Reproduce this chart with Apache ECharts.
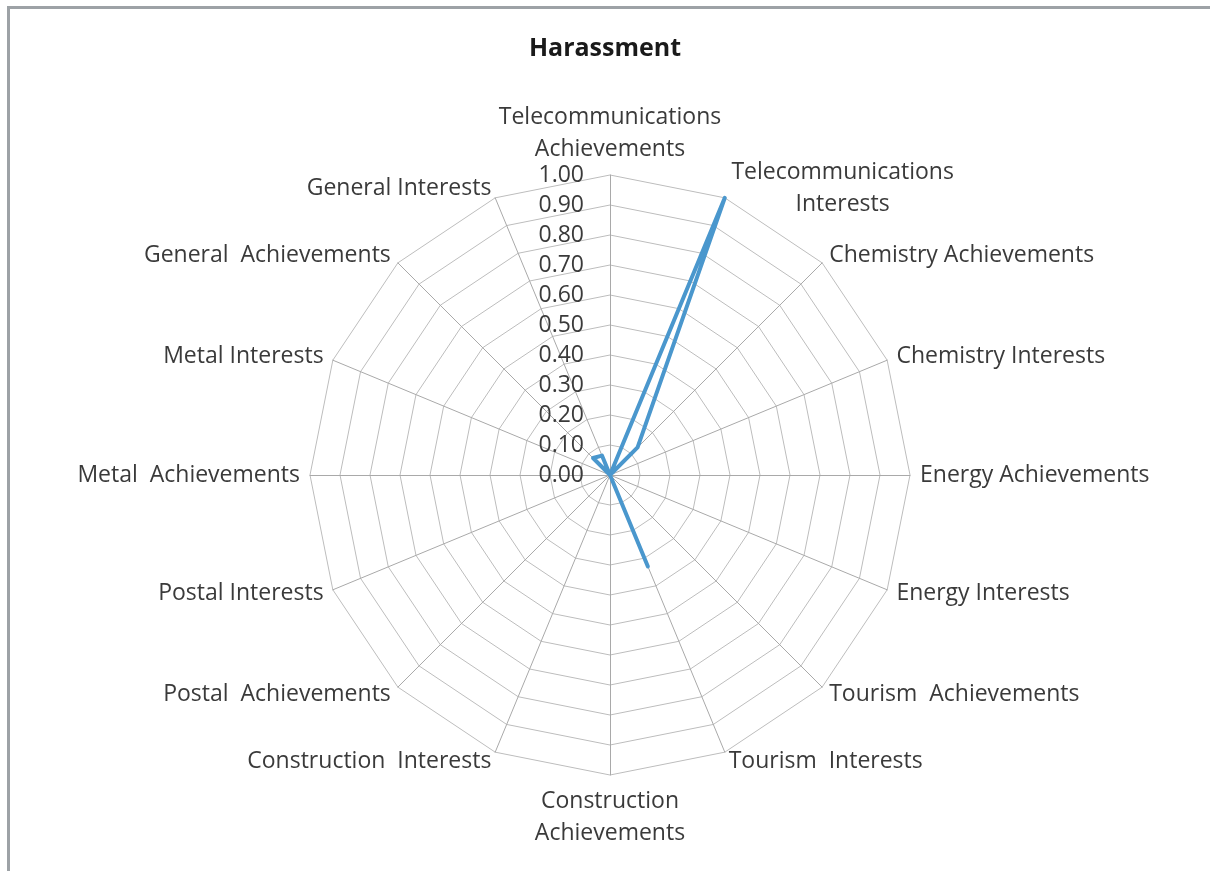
<!DOCTYPE html>
<html>
<head>
<meta charset="utf-8">
<script src="https://cdn.jsdelivr.net/npm/echarts@6/dist/echarts.min.js"></script>
<style>
html,body{margin:0;padding:0;background:#fff;}
#chart{position:absolute;left:0;top:0;width:1210px;height:871px;}
#frame{position:absolute;left:7px;top:6px;width:1220px;height:880px;border-left:3px solid #9da2a6;border-top:3px solid #9da2a6;pointer-events:none;}
</style>
</head>
<body>
<div id="chart"></div>
<div id="frame"></div>
<script>
// Categories in clockwise order starting at the top
var categories = [
  'Telecommunications\nAchievements',
  'Telecommunications\nInterests',
  'Chemistry Achievements',
  'Chemistry Interests',
  'Energy Achievements',
  'Energy Interests',
  'Tourism  Achievements',
  'Tourism  Interests',
  'Construction\nAchievements',
  'Construction  Interests',
  'Postal  Achievements',
  'Postal Interests',
  'Metal  Achievements',
  'Metal Interests',
  'General  Achievements',
  'General Interests'
];
var harassment = [0, 1.00, 0.13, 0, 0, 0, 0, 0.33, 0, 0, 0, 0, 0, 0, 0.08, 0.07];
var tickMin = 0, tickMax = 1, tickCount = 10;
var title = 'Harassment';

// ECharts lays indicators counter-clockwise; reorder to get clockwise
function toCCW(arr){ return [arr[0]].concat(arr.slice(1).reverse()); }
var indCats = toCCW(categories);
var indVals = toCCW(harassment);

var chart = echarts.init(document.getElementById('chart'));
var FONT = '"Open Sans", "Noto Sans", sans-serif';
var FS = 23;
var TXT = '#3a3a3a';
var center = [610, 475];
var radius = 300;

chart.setOption({
  animation: false,
  title: {
    text: title, left: 'center', top: 31,
    textStyle: {fontFamily: FONT, fontSize: 25, fontWeight: 'bold', color: '#1a1a1a'}
  },
  radar: [{
    center: center, radius: radius, startAngle: 90, shape: 'polygon',
    splitNumber: tickCount,
    indicator: indCats.map(function(c){ return {name: c, min: tickMin, max: tickMax}; }),
    nameGap: 10,
    axisName: {
      color: TXT, fontFamily: FONT, fontSize: FS, lineHeight: 32,
      formatter: function(name){
        if (name.indexOf('\n') >= 0) {
          return name.split('\n').map(function(s){ return '{m|' + s + '}'; }).join('\n');
        }
        return name;
      },
      rich: {m: {fontFamily: FONT, fontSize: FS, lineHeight: 32, color: TXT, width: 228, align: 'center'}}
    },
    axisLine: {lineStyle: {color: '#a9a9a9', width: 1}},
    splitLine: {lineStyle: {color: '#bdbdbd', width: 1}},
    splitArea: {show: false},
    axisTick: {show: false},
    axisLabel: {show: false}
  }, {
    center: center, radius: radius, startAngle: 90, shape: 'polygon',
    splitNumber: tickCount,
    indicator: [{name: '', min: tickMin, max: tickMax}],
    axisName: {show: false},
    axisLine: {show: false},
    splitLine: {show: false},
    splitArea: {show: false},
    axisTick: {show: false},
    axisLabel: {
      show: true, margin: 26, color: TXT, fontFamily: FONT, fontSize: FS,
      formatter: function(v){ return Number(v).toFixed(2); }
    }
  }],
  series: [{
    type: 'radar', radarIndex: 0, symbol: 'none',
    lineStyle: {color: '#4a97cd', width: 4},
    data: [{value: indVals, name: title}]
  }]
});
</script>
</body>
</html>
